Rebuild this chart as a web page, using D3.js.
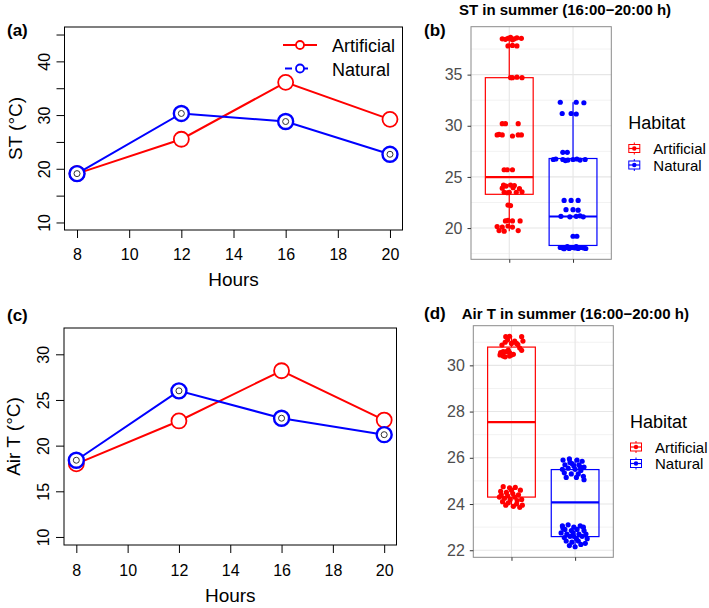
<!DOCTYPE html>
<html>
<head>
<meta charset="utf-8">
<script src="https://cdnjs.cloudflare.com/ajax/libs/d3/7.8.5/d3.min.js"></script>
<style>
    body { margin: 0; background: #fff; }
    svg { display: block; font-family: "Liberation Sans", Arial, Helvetica, sans-serif; }
</style>
</head>
<body>
<div id="chart"></div>
<script>

// ---- data ----
const hours = [8, 12, 16, 20];
const hourTicks = [8, 10, 12, 14, 16, 18, 20];
const habitats = ["Artificial", "Natural"];

// (a) soil temperature by hour
const stArtificial = [19.1, 25.5, 36.1, 29.2];
const stNatural = [19.1, 30.3, 28.8, 22.7];
const stTicks = [10, 15, 20, 25, 30, 35, 40, 45];

// (c) air temperature by hour
const airArtificial = [18.0, 22.7, 28.2, 22.8];
const airNatural = [18.4, 26.0, 23.0, 21.2];
const airTicks = [10, 15, 20, 25, 30];

// (b) ST in summer, jittered points: [jitter (category units), value]
const stArtificialPts = [
    [-0.11, 38.5], [-0.06, 38.45], [-0.02, 38.55], [0.05, 38.4], [0.08, 38.5], [0.12, 38.6], [0.19, 38.55], [0.02, 38.65],
    [-0.02, 37.8], [0.05, 37.85], [0.12, 37.8],
    [0.02, 34.7], [0.05, 34.7], [0.12, 34.75], [0.2, 34.7],
    [-0.11, 30.2], [-0.06, 30.2], [0.14, 30.2],
    [-0.19, 29.1], [-0.16, 29.15], [-0.11, 29.1], [0.05, 29.0], [0.14, 29.1], [0.19, 29.1],
    [-0.08, 25.7], [-0.03, 25.7], [0.05, 25.7],
    [-0.09, 24.2], [-0.05, 24.1], [0.02, 24.2], [0.08, 24.15],
    [-0.11, 23.9], [0.06, 23.95], [0.16, 23.85],
    [-0.08, 23.5], [-0.03, 23.45], [0, 23.5], [0.11, 23.5], [0.2, 23.55],
    [-0.02, 22.25], [0.02, 22.2],
    [-0.06, 20.7], [-0.02, 20.75], [0.05, 20.7], [0.17, 20.7],
    [-0.19, 20.15], [-0.11, 20.1], [-0.02, 20.2], [0.05, 20.1],
    [-0.16, 19.75], [-0.08, 19.7], [0.14, 19.75]
];
const stNaturalPts = [
    [-0.2, 32.3], [0.05, 32.3], [0.17, 32.25],
    [-0.17, 31.2], [-0.03, 31.2], [0.05, 31.15],
    [-0.16, 27.4], [-0.09, 27.4],
    [-0.31, 26.7], [-0.27, 26.75], [-0.16, 26.7], [-0.08, 26.65], [0, 26.7], [0.11, 26.65], [0.19, 26.7], [-0.12, 26.6], [0.06, 26.75],
    [-0.14, 22.7], [-0.03, 22.7], [0.08, 22.7],
    [-0.11, 21.8], [0, 21.8], [0.08, 21.75],
    [-0.19, 21.15], [-0.05, 21.1], [0.05, 21.15], [0.16, 21.1], [0.11, 21.2],
    [0, 19.2], [0.06, 19.2],
    [-0.2, 18.1], [-0.16, 18.05], [-0.11, 18.1], [-0.06, 18.0], [-0.02, 18.1], [0.03, 18.05], [0.08, 18.0],
    [0.13, 18.1], [0.17, 18.05], [0.2, 18.0], [-0.09, 18.2], [0.05, 18.2], [-0.14, 17.98]
];
const stQ1 = [23.3, 18.3];
const stMedian = [24.97, 21.13];
const stQ3 = [34.7, 26.8];
const stWhiskerLo = [19.7, 17.98];
const stWhiskerHi = [38.65, 32.3];
const stBoxTicks = [20, 25, 30, 35];

// (d) Air T in summer
const airArtificialPts = [
    [-0.09, 31.24], [-0.06, 31.1], [-0.03, 31.26], [-0.1, 31.0], [0.05, 31.05], [0.16, 31.24], [0.18, 31.05], [0, 30.95],
    [0.08, 30.95], [-0.15, 30.88], [-0.13, 30.59], [-0.08, 30.59], [-0.05, 30.66], [-0.03, 30.55], [0, 30.45], [-0.1, 30.37],
    [0.03, 30.48], [0.13, 30.75], [0.16, 30.65], [-0.18, 30.45], [-0.13, 30.4], [-0.03, 30.4], [0.1, 30.9], [-0.17, 30.55],
    [-0.13, 24.75], [-0.03, 24.7], [0.06, 24.72], [0.14, 24.6], [-0.17, 24.55], [-0.08, 24.5], [0.02, 24.45], [0.11, 24.4],
    [-0.19, 24.3], [-0.11, 24.25], [-0.02, 24.2], [0.05, 24.3], [0.16, 24.2], [-0.14, 24.1], [-0.05, 24.05], [0.08, 24.0],
    [0.17, 23.95], [-0.09, 23.95], [0.03, 23.9], [-0.16, 24.4], [0.09, 24.15], [-0.06, 24.35], [0.13, 23.85], [0, 24.6]
];
const airNaturalPts = [
    [-0.19, 25.9], [-0.09, 25.95], [0.03, 25.9], [0.11, 25.85], [-0.16, 25.7], [-0.05, 25.75], [0.06, 25.7], [0.14, 25.6],
    [-0.2, 25.5], [-0.11, 25.55], [0, 25.5], [0.09, 25.45], [-0.17, 25.35], [-0.06, 25.3], [0.05, 25.3], [0.13, 25.2],
    [-0.14, 25.15], [0.02, 25.15], [0.14, 25.05], [-0.08, 25.8], [0.08, 25.6], [-0.02, 25.65],
    [-0.2, 23.05], [-0.11, 23.1], [-0.02, 23.0], [0.08, 23.05], [-0.16, 22.9], [-0.06, 22.85], [0.03, 22.9], [0.14, 22.85],
    [-0.22, 22.75], [-0.13, 22.7], [-0.03, 22.75], [0.06, 22.7], [0.17, 22.7], [-0.17, 22.55], [-0.08, 22.6], [0.02, 22.5],
    [0.11, 22.6], [0.19, 22.5], [-0.14, 22.4], [-0.05, 22.35], [0.05, 22.4], [0.16, 22.3], [-0.09, 22.2], [0, 22.15],
    [0.09, 22.25], [-0.19, 22.95], [0.13, 23.0], [-0.02, 22.6]
];
const airQ1 = [24.3, 22.59];
const airMedian = [27.54, 24.07];
const airQ3 = [30.79, 25.49];
const airWhiskerLo = [23.85, 22.15];
const airWhiskerHi = [31.26, 25.95];
const airBoxTicks = [22, 24, 26, 28, 30];

const colors = { Artificial: "#ff0000", Natural: "#0000ff" };

const svg = d3.select("#chart").append("svg")
    .attr("width", 709)
    .attr("height", 608);

// R style axis range: 4% extension on both ends
function extendR(lim) {
    let d = lim[1] - lim[0];
    return [lim[0] - 0.04 * d, lim[1] + 0.04 * d];
}

/*
 * base-R like line panel
 */
function linePanel(cfg) {
    let g = svg.append("g");
    let b = cfg.box;

    let x = d3.scaleLinear().domain(extendR([8, 20])).range([b.left, b.right]);
    let y = d3.scaleLinear().domain(extendR(cfg.ylim)).range([b.bottom, b.top]);

    let xAxis = d3.axisBottom(x).tickValues(hourTicks).tickSize(8).tickSizeOuter(0);
    let gx = g.append("g")
        .attr("transform", "translate(0," + b.bottom + ")")
        .call(xAxis);
    gx.select(".domain").remove();
    gx.selectAll("line").attr("stroke", "#000");
    gx.selectAll("text")
        .attr("y", cfg.xLabelOffset)
        .attr("dy", null)
        .attr("fill", "#000")
        .style("font-size", "16px");

    let yAxis = d3.axisLeft(y).tickValues(cfg.yTicks).tickSize(8).tickSizeOuter(0)
        .tickFormat(d => cfg.yLabels.includes(d) ? d : "");
    let gy = g.append("g")
        .attr("transform", "translate(" + b.left + ",0)")
        .call(yAxis);
    gy.select(".domain").remove();
    gy.selectAll("line").attr("stroke", "#000");
    gy.selectAll("text")
        .attr("x", null)
        .attr("dy", null)
        .attr("text-anchor", "middle")
        .attr("transform", "translate(" + (-cfg.yLabelOffset) + ",0) rotate(-90)")
        .attr("fill", "#000")
        .style("font-size", "16px");

    g.append("rect")
        .attr("x", b.left).attr("y", b.top)
        .attr("width", b.right - b.left).attr("height", b.bottom - b.top)
        .attr("fill", "none").attr("stroke", "#000").attr("stroke-width", 1);

    let line = d3.line().x((d, i) => x(hours[i])).y(d => y(d));

    cfg.series.forEach(s => {
        g.append("path")
            .datum(s.values)
            .attr("d", line)
            .attr("fill", "none")
            .attr("stroke", s.color)
            .attr("stroke-width", 2);
        g.selectAll(null)
            .data(s.values)
            .enter().append("circle")
            .attr("cx", (d, i) => x(hours[i]))
            .attr("cy", d => y(d))
            .attr("r", 7.5)
            .attr("fill", "#fff")
            .attr("stroke", s.color)
            .attr("stroke-width", s.inner ? 2.4 : 1.8);
        if (s.inner) {
            g.selectAll(null)
                .data(s.values)
                .enter().append("circle")
                .attr("cx", (d, i) => x(hours[i]))
                .attr("cy", d => y(d))
                .attr("r", 3)
                .attr("fill", "none")
                .attr("stroke", "#333")
                .attr("stroke-width", 1);
        }
    });

    g.append("text")
        .attr("x", (b.left + b.right) / 2)
        .attr("y", cfg.xTitleY)
        .attr("text-anchor", "middle")
        .style("font-size", "19px")
        .text("Hours");

    g.append("text")
        .attr("transform", "translate(" + cfg.yTitleX + "," + (b.top + b.bottom) / 2 + ") rotate(-90)")
        .attr("text-anchor", "middle")
        .style("font-size", "19px")
        .text(cfg.yTitle);

    g.append("text")
        .attr("x", 7).attr("y", cfg.labelY)
        .style("font-size", "17px").style("font-weight", "bold")
        .text(cfg.label);

    if (cfg.legend) {
        let lg = g.append("g").attr("transform", "translate(283,0)");
        cfg.series.forEach((s, i) => {
            let ly = 45 + i * 23.5;
            lg.append("line")
                .attr("x1", i === 0 ? 0 : 2).attr("x2", 34)
                .attr("y1", ly).attr("y2", ly)
                .attr("stroke", s.color).attr("stroke-width", 2)
                .attr("stroke-dasharray", i === 0 ? null : "7,9");
            lg.append("circle")
                .attr("cx", 17).attr("cy", ly).attr("r", 4)
                .attr("fill", "#fff").attr("stroke", s.color).attr("stroke-width", 1.8);
            lg.append("text")
                .attr("x", 49).attr("y", ly + 7)
                .style("font-size", "18px")
                .text(s.name);
        });
    }
}

/*
 * ggplot like box + jitter panel
 */
function boxPanel(cfg) {
    let g = svg.append("g");
    let b = cfg.box;

    let allValues = cfg.points.flat().map(d => d[1]);
    let ext = d3.extent(allValues);
    let pad = (ext[1] - ext[0]) * 0.05;

    let x = d3.scalePoint().domain(habitats).range([b.left, b.right]).padding(0.6);
    let y = d3.scaleLinear().domain([ext[0] - pad, ext[1] + pad]).range([b.bottom, b.top]);
    let step = x.step();

    // grid
    let minor = [];
    for (let i = 0; i <= cfg.yTicks.length; i++) {
        let t0 = cfg.yTicks[0] + (i - 1) * cfg.tickStep;
        let m = t0 + cfg.tickStep / 2;
        if (m > y.domain()[0] && m < y.domain()[1]) minor.push(m);
    }
    g.selectAll(".minor")
        .data(minor)
        .enter().append("line")
        .attr("x1", b.left).attr("x2", b.right)
        .attr("y1", d => y(d)).attr("y2", d => y(d))
        .attr("stroke", "#f2f2f2").attr("stroke-width", 1);
    g.selectAll(".major")
        .data(cfg.yTicks)
        .enter().append("line")
        .attr("x1", b.left).attr("x2", b.right)
        .attr("y1", d => y(d)).attr("y2", d => y(d))
        .attr("stroke", "#e6e6e6").attr("stroke-width", 1.1);
    g.selectAll(".vmajor")
        .data(habitats)
        .enter().append("line")
        .attr("x1", d => x(d)).attr("x2", d => x(d))
        .attr("y1", b.top).attr("y2", b.bottom)
        .attr("stroke", "#e6e6e6").attr("stroke-width", 1.1);

    // boxes
    habitats.forEach((h, i) => {
        let cx = x(h), w = step * 0.75;
        let c = colors[h];
        g.append("line")
            .attr("x1", cx).attr("x2", cx)
            .attr("y1", y(cfg.hi[i])).attr("y2", y(cfg.q3[i]))
            .attr("stroke", c).attr("stroke-width", 1.2);
        g.append("line")
            .attr("x1", cx).attr("x2", cx)
            .attr("y1", y(cfg.q1[i])).attr("y2", y(cfg.lo[i]))
            .attr("stroke", c).attr("stroke-width", 1.2);
        g.append("rect")
            .attr("x", cx - w / 2).attr("width", w)
            .attr("y", y(cfg.q3[i])).attr("height", y(cfg.q1[i]) - y(cfg.q3[i]))
            .attr("fill", "none").attr("stroke", c).attr("stroke-width", 1.2);
        g.append("line")
            .attr("x1", cx - w / 2).attr("x2", cx + w / 2)
            .attr("y1", y(cfg.median[i])).attr("y2", y(cfg.median[i]))
            .attr("stroke", c).attr("stroke-width", 2.2);
    });

    // jittered points
    habitats.forEach((h, i) => {
        g.selectAll(null)
            .data(cfg.points[i])
            .enter().append("circle")
            .attr("cx", d => x(h) + d[0] * step)
            .attr("cy", d => y(d[1]))
            .attr("r", 2.6)
            .attr("fill", colors[h]);
    });

    g.append("rect")
        .attr("x", b.left).attr("y", b.top)
        .attr("width", b.right - b.left).attr("height", b.bottom - b.top)
        .attr("fill", "none").attr("stroke", "#8a8a8a").attr("stroke-width", 1);

    // axes
    let gy = g.append("g")
        .attr("transform", "translate(" + b.left + ",0)")
        .call(d3.axisLeft(y).tickValues(cfg.yTicks).tickSize(3.5).tickPadding(5).tickSizeOuter(0));
    gy.select(".domain").remove();
    gy.selectAll("line").attr("stroke", "#333");
    gy.selectAll("text").attr("fill", "#4d4d4d").style("font-size", "16px");

    let gx = g.append("g")
        .attr("transform", "translate(0," + b.bottom + ")")
        .call(d3.axisBottom(x).tickSize(3.5).tickFormat("").tickSizeOuter(0));
    gx.select(".domain").remove();
    gx.selectAll("line").attr("stroke", "#333");

    // title and panel label
    g.append("text")
        .attr("x", cfg.titleX).attr("y", cfg.titleY)
        .attr("text-anchor", "middle")
        .style("font-size", "15px").style("font-weight", "bold")
        .text(cfg.title);
    g.append("text")
        .attr("x", 424).attr("y", cfg.labelY)
        .style("font-size", "17px").style("font-weight", "bold")
        .text(cfg.label);

    // legend
    let lg = g.append("g").attr("transform", "translate(" + cfg.legend.x + "," + cfg.legend.y + ")");
    lg.append("text")
        .attr("x", 0).attr("y", 0)
        .style("font-size", "18px")
        .text("Habitat");
    habitats.forEach((h, i) => {
        let ky = 19.5 + i * 16.5;
        let c = colors[h];
        let k = lg.append("g").attr("transform", "translate(6," + ky + ")");
        k.append("line").attr("x1", 0).attr("x2", 0).attr("y1", -6).attr("y2", 6)
            .attr("stroke", c).attr("stroke-width", 1);
        k.append("rect").attr("x", -5.5).attr("y", -4).attr("width", 11).attr("height", 8)
            .attr("fill", "#fff").attr("stroke", c).attr("stroke-width", 1);
        k.append("line").attr("x1", -5.5).attr("x2", 5.5).attr("y1", 0).attr("y2", 0)
            .attr("stroke", c).attr("stroke-width", 1.2);
        k.append("circle").attr("r", 2.2).attr("fill", c);
        lg.append("text")
            .attr("x", cfg.legend.textDx).attr("y", ky + 5.5)
            .style("font-size", "15px")
            .text(h);
    });
}

linePanel({
    box: { left: 64.5, right: 402.5, top: 27, bottom: 230 },
    ylim: [10, 45],
    yTicks: stTicks,
    yLabels: [10, 20, 30, 40],
    xLabelOffset: 30,
    yLabelOffset: 15,
    xTitleY: 286,
    yTitleX: 22,
    yTitle: "ST (°C)",
    label: "(a)",
    labelY: 36,
    legend: true,
    series: [
        { name: "Artificial", values: stArtificial, color: colors.Artificial, inner: false },
        { name: "Natural", values: stNatural, color: colors.Natural, inner: true }
    ]
});

linePanel({
    box: { left: 64, right: 396.5, top: 328, bottom: 545 },
    ylim: [10, 32],
    yTicks: airTicks,
    yLabels: airTicks,
    xLabelOffset: 31,
    yLabelOffset: 15.5,
    xTitleY: 602,
    yTitleX: 19.5,
    yTitle: "Air T (°C)",
    label: "(c)",
    labelY: 320.5,
    legend: false,
    series: [
        { name: "Artificial", values: airArtificial, color: colors.Artificial, inner: false },
        { name: "Natural", values: airNatural, color: colors.Natural, inner: true }
    ]
});

boxPanel({
    box: { left: 471, right: 611.3, top: 26.7, bottom: 259.3 },
    points: [stArtificialPts, stNaturalPts],
    q1: stQ1, median: stMedian, q3: stQ3, lo: stWhiskerLo, hi: stWhiskerHi,
    yTicks: stBoxTicks, tickStep: 5,
    title: "ST in summer (16:00\u221220:00 h)", titleX: 565, titleY: 14.5,
    label: "(b)", labelY: 36,
    legend: { x: 628.3, y: 129, textDx: 25 }
});

boxPanel({
    box: { left: 473.3, right: 613.3, top: 325.7, bottom: 557.3 },
    points: [airArtificialPts, airNaturalPts],
    q1: airQ1, median: airMedian, q3: airQ3, lo: airWhiskerLo, hi: airWhiskerHi,
    yTicks: airBoxTicks, tickStep: 2,
    title: "Air T in summer (16:00\u221220:00 h)", titleX: 575.3, titleY: 319,
    label: "(d)", labelY: 319,
    legend: { x: 630, y: 427.5, textDx: 25 }
});

</script>
</body>
</html>
